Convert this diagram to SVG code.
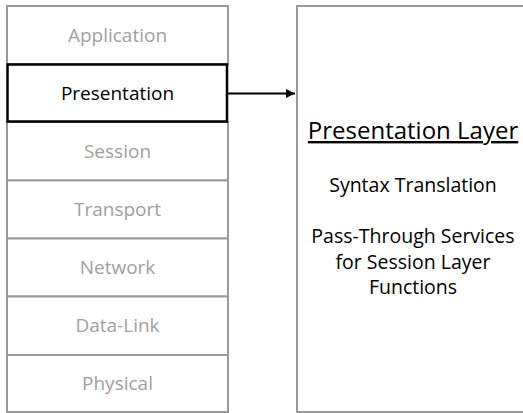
<svg xmlns="http://www.w3.org/2000/svg" width="523" height="413" viewBox="0 0 523 413">
  <style>
    .layer { fill: #ffffff; stroke: #9a9a9a; stroke-width: 2; }
    .active { fill: #ffffff; stroke: #000000; stroke-width: 2.5; }
    .lbl { font-family: "Open Sans", "Noto Sans", sans-serif; font-size: 19px; text-anchor: middle; fill: #a0a0a0; }
    .lbl-on { fill: #000000; }
    .detail { font-family: "Open Sans", "Noto Sans", sans-serif; font-size: 19.5px; text-anchor: middle; fill: #000000; }
    .title { font-size: 24px; text-decoration: underline; }
    .wire { stroke: #000000; stroke-width: 2; fill: none; }
  </style>
  <defs>
    <marker id="arrow" viewBox="0 0 10 10" refX="10" refY="5" markerWidth="4.5" markerHeight="5" orient="auto" markerUnits="strokeWidth">
      <path d="M0,0 L10,5 L0,10 z" fill="#000000"/>
    </marker>
  </defs>
  <rect width="523" height="413" fill="#ffffff"/>

  <!-- OSI stack -->
  <g id="application">
    <rect class="layer" x="7" y="6" width="221" height="58"/>
    <text class="lbl" x="117.5" y="42">Application</text>
  </g>
  <g id="session">
    <rect class="layer" x="7" y="122" width="221" height="58.5"/>
    <text class="lbl" x="117.5" y="157.5">Session</text>
  </g>
  <g id="transport">
    <rect class="layer" x="7" y="180.5" width="221" height="58"/>
    <text class="lbl" x="117.5" y="216">Transport</text>
  </g>
  <g id="network">
    <rect class="layer" x="7" y="238.5" width="221" height="58"/>
    <text class="lbl" x="117.5" y="274">Network</text>
  </g>
  <g id="data-link">
    <rect class="layer" x="7" y="296.5" width="221" height="58.5"/>
    <text class="lbl" x="117.5" y="332">Data-Link</text>
  </g>
  <g id="physical">
    <rect class="layer" x="7" y="355" width="221" height="57"/>
    <text class="lbl" x="117.5" y="390">Physical</text>
  </g>
  <g id="presentation">
    <rect class="active" x="7.5" y="64.5" width="219.5" height="57"/>
    <text class="lbl lbl-on" x="117.5" y="100">Presentation</text>
  </g>

  <!-- detail panel -->
  <g id="presentation-detail">
    <rect class="layer" x="297" y="6" width="240" height="406"/>
    <text class="detail title" x="413" y="139">Presentation Layer</text>
    <text class="detail" x="413" y="192">Syntax Translation</text>
    <text class="detail" x="413" y="243">Pass-Through Services</text>
    <text class="detail" x="413" y="268.5">for Session Layer</text>
    <text class="detail" x="413" y="293.5">Functions</text>
  </g>

  <g id="connectors">
    <line class="wire" x1="228" y1="93.5" x2="295" y2="93.5" marker-end="url(#arrow)"/>
  </g>
</svg>
